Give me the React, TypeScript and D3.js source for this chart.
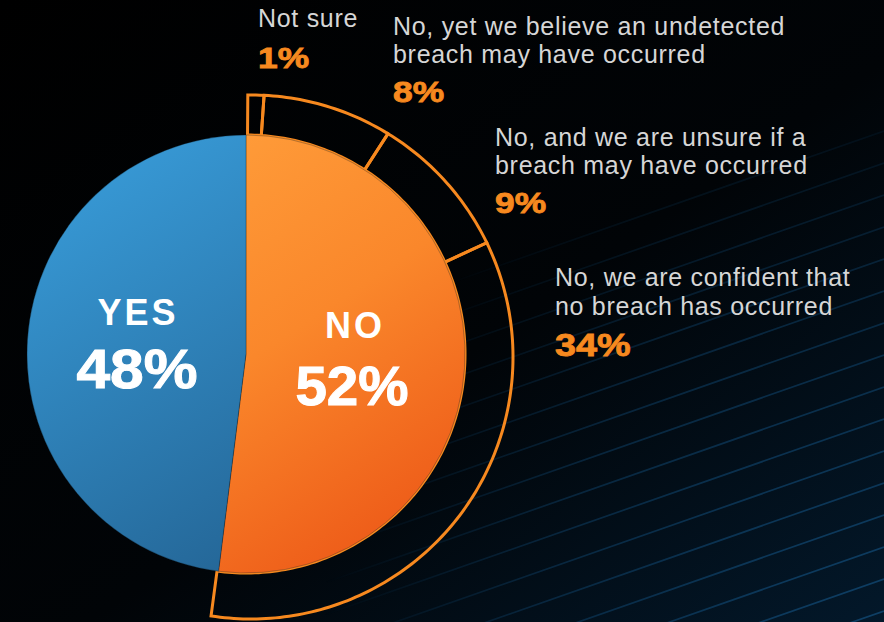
import React from "react";
import * as d3 from "d3";

const mainCategories = ["NO", "YES"];
const mainValues = [52, 48];
const subCategories = [
  ["Not sure"],
  ["No, yet we believe an undetected", "breach may have occurred"],
  ["No, and we are unsure if a", "breach may have occurred"],
  ["No, we are confident that", "no breach has occurred"],
];
const subValues = [1, 8, 9, 34];
const subLabelPos = [
  [258, 27],
  [393, 35],
  [495, 146],
  [555, 286],
];

const W = 884;
const H = 622;

export default function App() {
  const cx = 246, cy = 354, r = 219;
  const ox = 251 - cx, oy = 357 - cy, oR = 262;

  const pie = d3.pie<number>().sort(null).value((d) => d);
  const mainArcs = pie(mainValues);
  const arc = d3.arc<d3.PieArcDatum<number>>().innerRadius(0).outerRadius(r);

  const total = d3.sum(mainValues);
  const ringStart = (0.4 * Math.PI) / 180;
  const ringEnd = ringStart + (2 * Math.PI * d3.sum(subValues)) / total;
  const ringPie = d3.pie<number>().sort(null).value((d) => d).startAngle(ringStart).endAngle(ringEnd);
  const ringArcs = ringPie(subValues);

  const outerR = (a: number) => {
    const ux = Math.sin(a), uy = -Math.cos(a);
    const dx = -ox, dy = -oy;
    const du = dx * ux + dy * uy;
    const dd = dx * dx + dy * dy;
    return -du + Math.sqrt(du * du - dd + oR * oR);
  };
  const radial = d3
    .lineRadial<[number, number]>()
    .angle((p) => p[0])
    .radius((p) => p[1])
    .curve(d3.curveLinear);
  const ringPath = (a0: number, a1: number) => {
    const n = Math.max(4, Math.ceil(((a1 - a0) * 180) / Math.PI));
    const pts: [number, number][] = [];
    for (let k = 0; k <= n; k++) {
      const a = a0 + ((a1 - a0) * k) / n;
      pts.push([a, outerR(a)]);
    }
    for (let k = n; k >= 0; k--) {
      const a = a0 + ((a1 - a0) * k) / n;
      pts.push([a, r]);
    }
    return (radial(pts) || "") + "Z";
  };

  const lineOffsets = d3.range(0, 26);
  const slope = -0.35;

  const fills = ["url(#gOrange)", "url(#gBlue)"];

  return (
    <svg
      width={W}
      height={H}
      style={{ position: "absolute", left: 0, top: 0, display: "block" }}
      fontFamily="'Liberation Sans', Arial, sans-serif"
    >
      <defs>
        <linearGradient id="gBg" x1="0" y1="0" x2="1" y2="1">
          <stop offset="0%" stopColor="#000000" />
          <stop offset="55%" stopColor="#010407" />
          <stop offset="100%" stopColor="#03182a" />
        </linearGradient>
        <radialGradient id="gMask" cx={W} cy={H} r={560} gradientUnits="userSpaceOnUse">
          <stop offset="0%" stopColor="#fff" stopOpacity={1} />
          <stop offset="60%" stopColor="#fff" stopOpacity={0.5} />
          <stop offset="100%" stopColor="#fff" stopOpacity={0} />
        </radialGradient>
        <mask id="lineMask">
          <rect x={0} y={0} width={W} height={H} fill="url(#gMask)" />
        </mask>
        <linearGradient id="gBlue" gradientUnits="userSpaceOnUse" x1={-r} y1={-r} x2={r * 0.2} y2={r}>
          <stop offset="0%" stopColor="#3aa0de" />
          <stop offset="100%" stopColor="#236393" />
        </linearGradient>
        <linearGradient id="gOrange" gradientUnits="userSpaceOnUse" x1={-r * 0.2} y1={-r} x2={r} y2={r * 0.8}>
          <stop offset="0%" stopColor="#ff9d3a" />
          <stop offset="45%" stopColor="#fa872b" />
          <stop offset="100%" stopColor="#ec5516" />
        </linearGradient>
      </defs>

      <rect x={0} y={0} width={W} height={H} fill="url(#gBg)" />
      <g mask="url(#lineMask)">
        {lineOffsets.map((i) => {
          const yRight = 387 + (i - 8) * 32;
          const y1 = yRight - slope * W;
          return <line key={i} x1={0} y1={y1} x2={W} y2={yRight} stroke="#0f4066" strokeWidth={1.7} />;
        })}
      </g>

      <g transform={`translate(${cx},${cy})`}>
        {ringArcs.map((a, i) => (
          <path key={i} d={ringPath(a.startAngle, a.endAngle)} fill="none" stroke="#f7891f" strokeWidth={3} strokeLinejoin="miter" />
        ))}
        {mainArcs.map((a, i) => (
          <path key={mainCategories[i]} d={arc(a) || ""} fill={fills[i]} stroke="#0a1a26" strokeWidth={0.6} strokeOpacity={0.5} />
        ))}
      </g>

      {/* center labels */}
      <text x={138} y={325} textAnchor="middle" fill="#ffffff" fontWeight="bold" fontSize={36} letterSpacing={3}>
        {mainCategories[1]}
      </text>
      <text transform="translate(137,388) scale(1.08,1)" textAnchor="middle" fill="#ffffff" stroke="#ffffff" strokeWidth={1} fontWeight="bold" fontSize={56}>
        {`${mainValues[1]}%`}
      </text>
      <text x={355} y={338} textAnchor="middle" fill="#ffffff" fontWeight="bold" fontSize={36} letterSpacing={3}>
        {mainCategories[0]}
      </text>
      <text transform="translate(352,405) scale(1.01,1)" textAnchor="middle" fill="#ffffff" stroke="#ffffff" strokeWidth={1} fontWeight="bold" fontSize={56}>
        {`${mainValues[0]}%`}
      </text>

      {/* sub labels */}
      {subCategories.map((lines, i) => {
        const [x, y] = subLabelPos[i];
        const lh = i === 3 ? 29 : 28;
        const py = y + (lines.length - 1) * lh + (i === 3 ? 41 : lines.length > 1 ? 39 : 41);
        return (
          <g key={i}>
            {lines.map((ln, j) => (
              <text key={j} x={x} y={y + j * lh} fill="#d6d6d6" fontSize={25} letterSpacing={0.7}>
                {ln}
              </text>
            ))}
            <text
              transform={`translate(${x},${py}) scale(1.22,1)`}
              fill="#f7891f"
              stroke="#f7891f"
              strokeWidth={0.8}
              fontWeight="bold"
              fontSize={i === 3 ? 31 : 29}
            >
              {`${subValues[i]}%`}
            </text>
          </g>
        );
      })}
    </svg>
  );
}
